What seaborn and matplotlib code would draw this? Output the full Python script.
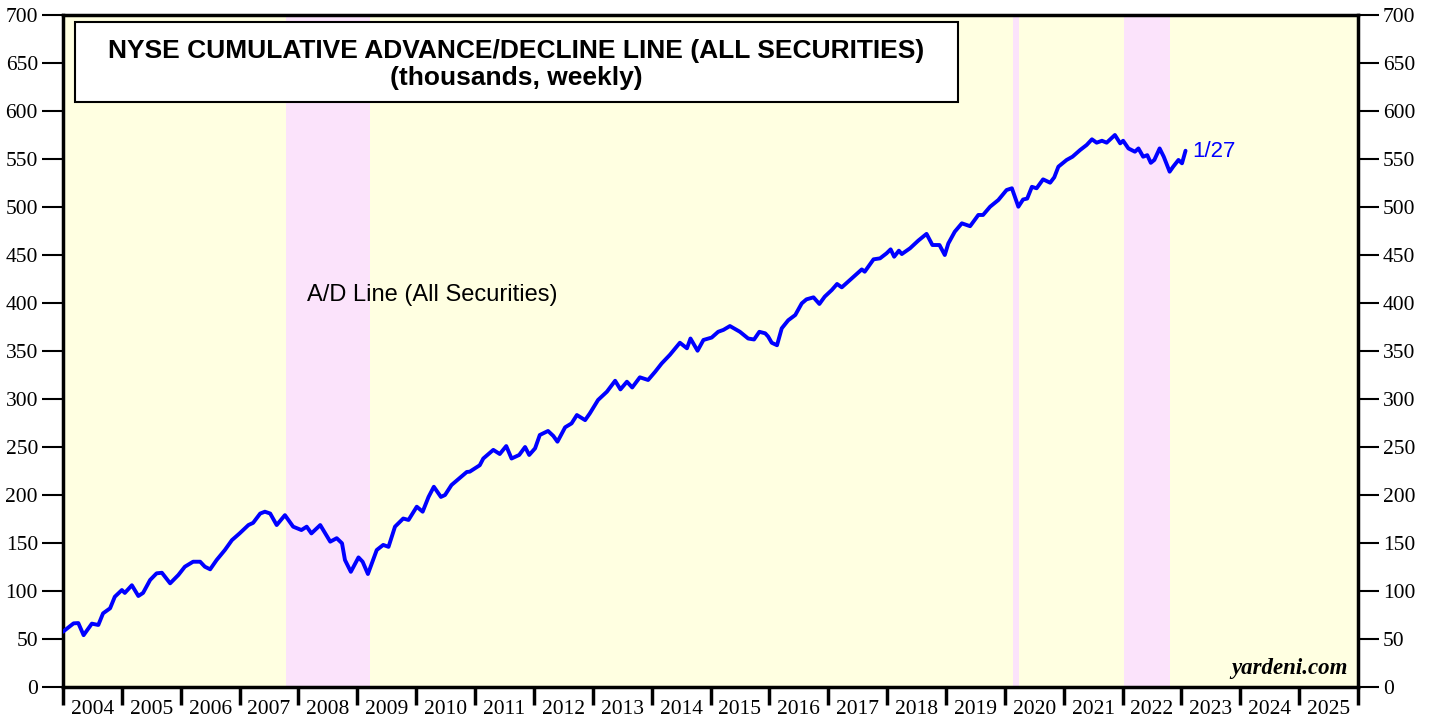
import numpy as np
import pandas as pd
import matplotlib
matplotlib.use("Agg")
import matplotlib.pyplot as plt
from matplotlib.patches import Rectangle
import seaborn as sns

# Weekly NYSE cumulative A/D line (thousands)
years = [
    2004.00, 2004.18, 2004.26, 2004.35, 2004.49, 2004.60, 2004.68, 2004.80, 2004.88, 2005.00,
    2005.05, 2005.17, 2005.28, 2005.36, 2005.48, 2005.59, 2005.68, 2005.82, 2005.96, 2006.07,
    2006.21, 2006.33, 2006.41, 2006.50, 2006.61, 2006.75, 2006.87, 2007.00, 2007.15, 2007.23,
    2007.35, 2007.43, 2007.52, 2007.63, 2007.77, 2007.91, 2008.05, 2008.14, 2008.22, 2008.37,
    2008.54, 2008.65, 2008.74, 2008.79, 2008.89, 2009.02, 2009.09, 2009.18, 2009.33, 2009.44,
    2009.53, 2009.64, 2009.78, 2009.87, 2010.01, 2010.11, 2010.21, 2010.30, 2010.42, 2010.49,
    2010.60, 2010.86, 2010.91, 2011.08, 2011.14, 2011.31, 2011.42, 2011.53, 2011.62, 2011.75,
    2011.85, 2011.92, 2012.02, 2012.10, 2012.24, 2012.33, 2012.40, 2012.53, 2012.64, 2012.73,
    2012.87, 2012.95, 2013.09, 2013.24, 2013.38, 2013.47, 2013.58, 2013.67, 2013.80, 2013.94,
    2014.06, 2014.17, 2014.31, 2014.48, 2014.60, 2014.66, 2014.78, 2014.88, 2015.02, 2015.13,
    2015.22, 2015.33, 2015.50, 2015.64, 2015.74, 2015.83, 2015.93, 2015.98, 2016.04, 2016.13,
    2016.21, 2016.32, 2016.44, 2016.55, 2016.63, 2016.75, 2016.85, 2016.94, 2017.06, 2017.15,
    2017.23, 2017.40, 2017.57, 2017.62, 2017.77, 2017.88, 2017.99, 2018.06, 2018.12, 2018.20,
    2018.25, 2018.39, 2018.53, 2018.67, 2018.77, 2018.89, 2018.98, 2019.04, 2019.15, 2019.27,
    2019.41, 2019.55, 2019.63, 2019.75, 2019.89, 2020.03, 2020.12, 2020.23, 2020.31, 2020.38,
    2020.46, 2020.54, 2020.65, 2020.77, 2020.84, 2020.91, 2021.05, 2021.15, 2021.28, 2021.39,
    2021.48, 2021.56, 2021.65, 2021.73, 2021.87, 2021.96, 2022.01, 2022.10, 2022.21, 2022.27,
    2022.35, 2022.42, 2022.48, 2022.54, 2022.63, 2022.70, 2022.80, 2022.86, 2022.95, 2023.01,
    2023.07,
]
ad_line = [
    57.6, 66.3, 66.6, 54.0, 66.0, 64.6, 76.7, 82.0, 94.0, 101.0,
    98.0, 106.0, 94.8, 98.0, 111.5, 118.4, 119.0, 108.0, 116.7, 125.3,
    130.5, 130.5, 125.3, 122.6, 132.3, 142.7, 153.0, 160.0, 168.7, 171.0,
    180.7, 182.6, 180.7, 168.7, 179.0, 167.0, 163.5, 167.0, 160.0, 168.7,
    151.4, 155.0, 149.7, 132.3, 120.0, 135.0, 130.5, 117.7, 142.7, 148.0,
    146.0, 167.0, 175.5, 174.0, 187.8, 182.6, 198.0, 208.6, 198.0, 200.0,
    210.4, 224.0, 224.3, 231.0, 238.0, 247.0, 242.7, 251.0, 238.0, 241.7,
    250.0, 241.7, 248.6, 262.5, 266.7, 261.5, 255.5, 270.5, 274.6, 283.3,
    278.0, 285.0, 299.0, 307.6, 319.0, 310.0, 318.0, 312.0, 322.6, 319.8,
    328.4, 337.0, 346.0, 358.6, 352.8, 363.0, 350.3, 361.5, 364.0, 370.0,
    372.0, 376.0, 370.0, 363.0, 362.0, 370.0, 368.4, 365.0, 358.6, 356.0,
    373.6, 382.0, 387.5, 399.6, 403.8, 405.9, 399.0, 406.6, 413.5, 419.8,
    416.3, 425.7, 435.0, 432.6, 445.5, 446.5, 451.7, 455.9, 448.2, 454.5,
    451.0, 457.0, 465.0, 472.0, 460.4, 460.4, 450.0, 462.0, 474.3, 483.0,
    480.0, 491.7, 491.7, 500.3, 507.3, 517.7, 519.5, 500.3, 507.8, 508.8,
    521.0, 519.5, 528.8, 525.3, 530.9, 542.0, 549.0, 552.4, 559.4, 564.6,
    570.5, 567.0, 569.0, 567.0, 575.0, 566.3, 569.0, 561.0, 557.6, 561.0,
    552.4, 554.0, 546.0, 549.0, 561.0, 552.4, 536.8, 542.0, 549.0, 545.5,
    558.6,
]

# recession / shaded bands (decimal years)
band_starts = [2007.78, 2020.14, 2022.03]
band_ends = [2009.21, 2020.24, 2022.81]

year_labels = [str(y) for y in range(2004, 2026)]

df = pd.DataFrame({"year": years, "ad": ad_line})

sns.set_style("ticks")
plt.rcParams["font.family"] = ["Liberation Serif", "DejaVu Serif"]
plt.rcParams["text.color"] = "black"
plt.rcParams["xtick.color"] = "black"
plt.rcParams["ytick.color"] = "black"

sans = ["Liberation Sans", "DejaVu Sans"]

fig = plt.figure(figsize=(14.29, 7.19), dpi=100)
ax = fig.add_axes([63 / 1429, 32 / 719, 1295 / 1429, 672 / 719])
ax.set_facecolor("#ffffe1")

for s, e in zip(band_starts, band_ends):
    ax.axvspan(s, e, color="#fbe3fb", lw=0, zorder=0)

sns.lineplot(data=df, x="year", y="ad", ax=ax, color="#0000ff", lw=2.8, zorder=3)

ax.set_xlim(2004, 2026)
ax.set_ylim(0, 700)
ax.set_xlabel("")
ax.set_ylabel("")

# year ticks at boundaries, labels between them
ax.set_xticks(range(2004, 2027))
ax.set_xticklabels([])
ax.set_xticks([y + 0.5 for y in range(2004, 2026)], minor=True)
ax.set_xticklabels(year_labels, minor=True, fontsize=15.5)
ax.tick_params(axis="x", which="major", length=13, width=2.5, direction="out")
ax.tick_params(axis="x", which="minor", length=0, pad=9)

ax.set_yticks(range(0, 701, 50))
ax.tick_params(axis="y", which="major", length=15, width=1.5, labelsize=15.5,
               left=True, right=True, labelleft=True, labelright=True, pad=3)

for sp in ax.spines.values():
    sp.set_visible(True)
    sp.set_linewidth(2.5)
    sp.set_color("black")

# title box
ax.add_patch(Rectangle((12 / 1295, 609.4), 883 / 1295, 83.3,
                       transform=ax.get_yaxis_transform(), facecolor="white",
                       edgecolor="black", lw=1.5, zorder=4))
ax.text(0.3502, 662, "NYSE CUMULATIVE ADVANCE/DECLINE LINE (ALL SECURITIES)",
        transform=ax.get_yaxis_transform(), ha="center", va="center",
        fontsize=19, fontweight="bold", family=sans, zorder=5)
ax.text(0.3502, 634, "(thousands, weekly)",
        transform=ax.get_yaxis_transform(), ha="center", va="center",
        fontsize=19, fontweight="bold", family=sans, zorder=5)

ax.text(2008.15, 408, "A/D Line (All Securities)", ha="left", va="center",
        fontsize=17, family=sans)

ax.text(df["year"].iloc[-1] + 0.12, df["ad"].iloc[-1] - 1, "1/27", ha="left", va="center",
        fontsize=16, family=sans, color="#0000ff")

ax.text(0.992, 0.012, "yardeni.com", transform=ax.transAxes, ha="right", va="bottom",
        fontsize=16.5, fontweight="bold", fontstyle="italic")

fig.savefig("out.png", dpi=100)
